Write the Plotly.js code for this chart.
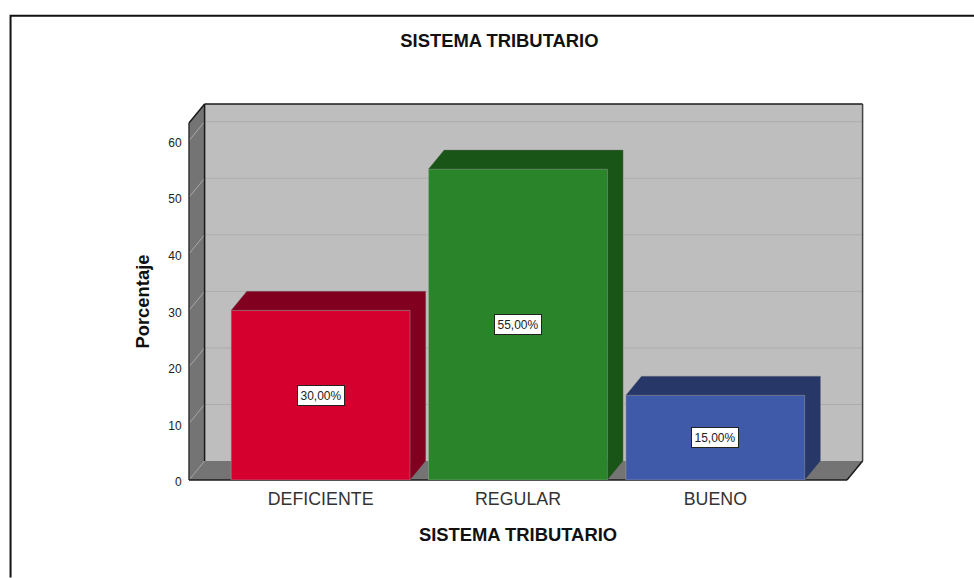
<!DOCTYPE html>
<html>
<head>
<meta charset="utf-8">
<script src="https://cdn.plot.ly/plotly-3.0.1.min.js"></script>
<style>html,body{margin:0;padding:0;background:#fff;overflow:hidden}</style>
</head>
<body>
<div id="chart" style="width:974px;height:578px"></div>
<script>
const categories = ["DEFICIENTE", "REGULAR", "BUENO"];
const values = [30, 55, 15];
const valueLabels = ["30,00%", "55,00%", "15,00%"];
const yTicks = [0, 10, 20, 30, 40, 50, 60];
const positions = [0, 1, 2];
const frontColors = ["#d6002f", "#2a852a", "#3f5aa8"];
const sideColors = ["#82001f", "#1a5518", "#263768"];

const W = 974, H = 578;
const M = {l: 188.5, r: 127.3, t: 123.3, b: 97.5};
const PW = W - M.l - M.r, PH = H - M.t - M.b;
const xRange = [-0.667, 2.667], yMax = 63.13;
const barWidth = 0.907;
// depth of the pseudo-3D box, in pixels
const DX = 15.6, DY = 19;
const dxP = DX / PW, dyP = DY / PH;                 // paper fractions
const dxD = DX / (PW / (xRange[1] - xRange[0]));    // data units
const dyD = DY / (PH / yMax);
const font = "Liberation Sans, Arial, sans-serif";

const pxX = p => (p - M.l) / PW;
const pxY = p => 1 - (p - M.t) / PH;

function poly(pts, fill, line, lw, layer) {
  const d = pts.map((p, i) => (i ? "L" : "M") + p[0] + " " + p[1]).join(" ") + " Z";
  return {type: "path", xref: "paper", yref: "paper", path: d, fillcolor: fill,
          line: {color: line, width: lw}, layer: layer || "below"};
}
function seg(x0, y0, x1, y1, color, w) {
  return {type: "line", xref: "paper", yref: "paper", x0, y0, x1, y1,
          line: {color, width: w}, layer: "below"};
}

const shapes = [
  poly([[dxP, dyP], [1 + dxP, dyP], [1 + dxP, 1 + dyP], [dxP, 1 + dyP]], "#bebebe", "rgba(0,0,0,0)", 0),
  poly([[0, 0], [dxP, dyP], [dxP, 1 + dyP], [0, 1]], "#747474", "rgba(0,0,0,0)", 0),
  poly([[0, 0], [1, 0], [1 + dxP, dyP], [dxP, dyP]], "#747474", "rgba(0,0,0,0)", 0)
];
yTicks.filter(v => v > 0).forEach(v => {
  const f = v / yMax;
  shapes.push(seg(dxP, f + dyP, 1 + dxP, f + dyP, "#adadad", 1));
  shapes.push(seg(0, f, dxP, f + dyP, "#a8a8a8", 1));
});
shapes.push(seg(0, 0, dxP, dyP, "#a0a0a0", 1));
shapes.push(seg(dxP, dyP, dxP, 1 + dyP, "#1a1a1a", 1.5));
shapes.push(seg(dxP, 1 + dyP, 1 + dxP, 1 + dyP, "#1a1a1a", 1.5));
shapes.push(seg(1 + dxP, dyP, 1 + dxP, 1 + dyP, "#444", 1.5));
shapes.push(seg(0, 1, dxP, 1 + dyP, "#1a1a1a", 1.5));
shapes.push(seg(0, 0, 0, 1, "#333", 1.5));
shapes.push(seg(0, 0, 1, 0, "#1a1a1a", 1.5));
shapes.push(seg(1, 0, 1 + dxP, dyP, "#1a1a1a", 1.5));
// outer picture frame
shapes.push({type: "path", xref: "paper", yref: "paper",
  path: `M${pxX(10)} ${pxY(H)} L${pxX(10)} ${pxY(16)} L${pxX(W)} ${pxY(16)}`,
  line: {color: "#111", width: 2}, layer: "above"});

const traces = [{
  type: "bar", x: positions, y: values, width: barWidth,
  marker: {color: frontColors, line: {color: "rgba(170,170,170,0.45)", width: 1}},
  hoverinfo: "skip"
}];
positions.forEach((c, i) => {
  const x0 = c - barWidth / 2, x1 = c + barWidth / 2, v = values[i];
  traces.push({
    type: "scatter", mode: "lines", fill: "toself", fillcolor: sideColors[i],
    x: [x0, x1, x1, x1 + dxD, x1 + dxD, x0 + dxD, x0],
    y: [v, v, 0, dyD, v + dyD, v + dyD, v],
    line: {color: "rgba(120,120,120,0.5)", width: 0.7}, hoverinfo: "skip"
  });
});

const annotations = positions.map((c, i) => ({
  x: c, y: values[i] / 2, xref: "x", yref: "y", text: valueLabels[i], showarrow: false,
  font: {family: font, size: 12, color: "#222"},
  bgcolor: "#fff", bordercolor: "#222", borderwidth: 1, borderpad: 0, width: 46, height: 19
}));

const layout = {
  width: W, height: H, autosize: false, showlegend: false,
  paper_bgcolor: "#fff", plot_bgcolor: "rgba(0,0,0,0)",
  margin: {l: M.l, r: M.r, t: M.t, b: M.b, pad: 0},
  title: {text: "SISTEMA TRIBUTARIO", x: pxX(499), xref: "paper", xanchor: "center",
          y: 1 - 41 / H, yanchor: "middle",
          font: {family: font, size: 18.4, color: "#111", weight: 700}},
  xaxis: {
    range: xRange, tickmode: "array", tickvals: positions, ticktext: categories,
    showgrid: false, zeroline: false, showline: false, ticks: "", fixedrange: true,
    ticklabelstandoff: 6,
    tickfont: {family: font, size: 17.8, color: "#333"},
    title: {text: "SISTEMA TRIBUTARIO", standoff: 20,
            font: {family: font, size: 18.4, color: "#111", weight: 700}}
  },
  yaxis: {
    range: [0, yMax], tickmode: "array", tickvals: yTicks,
    showgrid: false, zeroline: false, showline: false, ticks: "outside", ticklen: 4,
    tickcolor: "rgba(0,0,0,0)", fixedrange: true, ticklabelshift: 2,
    tickfont: {family: font, size: 12, color: "#222"},
    title: {text: "Porcentaje", standoff: 13,
            font: {family: font, size: 18.4, color: "#111", weight: 700}}
  },
  shapes, annotations
};
Plotly.newPlot("chart", traces, layout, {displayModeBar: false, staticPlot: true});
</script>
</body>
</html>
